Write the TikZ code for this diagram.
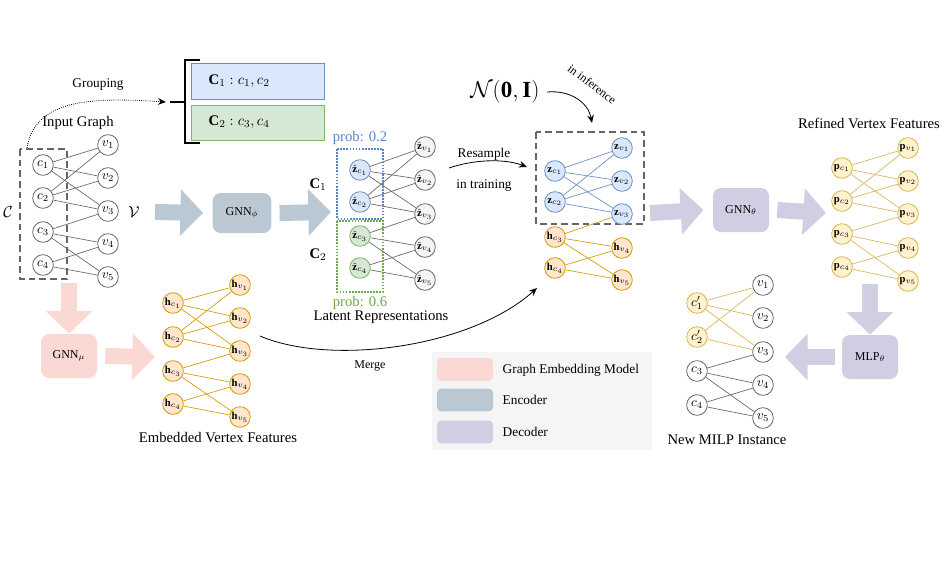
\documentclass[tikz,border=0pt]{standalone}
\usepackage{amsmath,amssymb}
\usepackage{fontspec}
\setmainfont{Liberation Serif}
\usepackage{xcolor}
\usetikzlibrary{
  arrows.meta,
  calc,
  positioning
}
\definecolor{gembed}{HTML}{FAD9D5}
\definecolor{encoder}{HTML}{BAC8D3}
\definecolor{decoder}{HTML}{D0CEE2}
\definecolor{bluefill}{HTML}{DAE8FC}
\definecolor{blueline}{HTML}{6C8EBF}
\definecolor{bluetext}{HTML}{5B84C4}
\definecolor{greenfill}{HTML}{D5E8D4}
\definecolor{greenline}{HTML}{82B366}
\definecolor{greentext}{HTML}{6FA84A}
\definecolor{orangefill}{HTML}{FFE6CC}
\definecolor{orangeline}{HTML}{D79B00}
\definecolor{yellowfill}{HTML}{FFF2CC}
\definecolor{yellowline}{HTML}{D6B656}
\definecolor{grayfill}{HTML}{F5F5F5}
\definecolor{grayline}{HTML}{666666}
\tikzset{
  >=Stealth,
  line cap=round,
  vertex/.style={circle, draw=grayline, fill=white, line width=0.6pt, minimum size=15.5pt, inner sep=0pt, font=\normalsize},
  bluev/.style={vertex, draw=blueline, fill=bluefill, font=\footnotesize},
  greenv/.style={vertex, draw=greenline, fill=greenfill, font=\footnotesize},
  orangev/.style={vertex, draw=orangeline, fill=orangefill, font=\footnotesize},
  yellowv/.style={vertex, draw=yellowline, fill=yellowfill, font=\footnotesize},
  latentv/.style={vertex, fill=grayfill, font=\footnotesize},
  link/.style={draw=grayline, line width=0.5pt},
  block/.style={rounded corners=6pt, minimum width=42pt, minimum height=33pt, font=\small},
  fatarrow/.style={line width=12pt, line cap=butt, -{Triangle[length=17pt,width=34pt]}},
  dashbox/.style={draw=grayline, line width=1.4pt, line cap=butt, dash pattern=on 5pt off 3pt},
  heading/.style={font=\fontsize{11}{13}\selectfont},
  legendkey/.style={rounded corners=3pt, minimum width=42pt, minimum height=17pt},
  thinarrow/.style={-{Stealth[length=6pt,width=5pt]}, line width=0.6pt}
}
\def\edgelist{1/1,1/2,1/3,2/1,2/2,2/3,3/3,3/4,3/5,4/4,4/5}

\begin{document}
\begin{tikzpicture}[x=0.75pt,y=-0.75pt]
  \useasboundingbox (0,0) rectangle (946,568);

  % input graph
  \node[heading] (ingraph) at (78,123) {Input Graph};
  \foreach \i/\y in {1/165,2/198,3/232,4/265}
    \node[vertex] (c\i) at (43,\y) {$c_{\i}$};
  \foreach \j/\y in {1/145,2/178,3/211,4/244,5/277}
    \node[vertex] (v\j) at (108,\y) {$v_{\j}$};
  \foreach \a/\b in \edgelist
    \draw[link] (c\a) -- (v\b);
  \draw[dashbox] (20,149) rectangle (67,279);
  \node[font=\large] (Cset) at (8,212) {$\mathcal{C}$};
  \node[font=\large] (Vset) at (134,212) {$\mathcal{V}$};

  % grouping
  \coordinate (grpfrom) at (27,148);
  \coordinate (grpto) at (166,102);
  \draw[densely dotted, thinarrow] (grpfrom) .. controls (35,96) and (100,98) .. (grpto);
  \node (grplabel) at (98,85) {Grouping};
  \draw[line width=1.3pt] (170,102) -- (185,102) (200,60) -- (185,60) -- (185,143) -- (200,143);
  \draw[fill=bluefill, draw=blueline, line width=0.6pt] (191,63) rectangle (324,99);
  \draw[fill=greenfill, draw=greenline, line width=0.6pt] (191,105) rectangle (324,140);
  \node[anchor=west, heading] (grp1) at (204,81) {$\mathbf{C}_1 : c_1, c_2$};
  \node[anchor=west, heading] (grp2) at (204,122) {$\mathbf{C}_2 : c_3, c_4$};

  % encoder
  \node[block, fill=encoder, minimum width=44pt, minimum height=30pt] (gnnphi) at (242,213) {GNN$_\phi$};
  \coordinate (encin) at (155,212);
  \coordinate (encout) at (331,212);
  \draw[fatarrow, encoder] (encin) -- ([xshift=-7]gnnphi.west);
  \draw[fatarrow, encoder] ([xshift=6]gnnphi.east) -- (encout);

  % latent representations
  \node[bluev] (zc1) at (360,170) {$\hat{\mathbf{z}}_{c_1}$};
  \node[bluev] (zc2) at (360,202) {$\hat{\mathbf{z}}_{c_2}$};
  \node[greenv] (zc3) at (360,236) {$\hat{\mathbf{z}}_{c_3}$};
  \node[greenv] (zc4) at (360,268) {$\hat{\mathbf{z}}_{c_4}$};
  \foreach \j/\y in {1/147,2/180,3/214,4/247,5/280}
    \node[latentv] (zv\j) at (425,\y) {$\hat{\mathbf{z}}_{v_{\j}}$};
  \foreach \a/\b in \edgelist
    \draw[link] (zc\a) -- (zv\b);
  \draw[bluetext, densely dotted, line width=1.3pt] (337,149) rectangle (383,219);
  \draw[greentext, densely dotted, line width=1.3pt] (337,221) rectangle (383,292);
  \node[heading, text=bluetext] (prob1) at (360,138) {prob: 0.2};
  \node[heading, text=greentext] (prob2) at (360,303) {prob: 0.6};
  \node[heading] (clu1) at (318,185) {$\mathbf{C}_1$};
  \node[heading] (clu2) at (318,255) {$\mathbf{C}_2$};
  \node[heading] (latent) at (381,317) {Latent Representations};

  % resample / noise
  \coordinate (resfrom) at (449,168);
  \coordinate (resto) at (527,167);
  \draw[thinarrow] (resfrom) .. controls (472,160) and (503,158) .. (resto);
  \node (resample) at (484,154) {Resample};
  \node (training) at (484,186) {in training};
  \node[font=\LARGE] (noise) at (505,92) {$\mathcal{N}(\mathbf{0},\mathbf{I})$};
  \coordinate (noiseto) at (592,123);
  \draw[thinarrow] ([xshift=2]noise.east) .. controls (570,90) and (588,102) .. (noiseto);
  \node[font=\small, rotate=-37] (inference) at (592,84) {in inference};

  % decoder input
  \draw[dashbox] (536,132) rectangle (644,224);
  \node[bluev] (dc1) at (555,171) {$\mathbf{z}_{c_1}$};
  \node[bluev] (dc2) at (555,202) {$\mathbf{z}_{c_2}$};
  \node[orangev] (dc3) at (555,237) {$\mathbf{h}_{c_3}$};
  \node[orangev] (dc4) at (555,268) {$\mathbf{h}_{c_4}$};
  \node[bluev] (dv1) at (622,148) {$\mathbf{z}_{v_1}$};
  \node[bluev] (dv2) at (622,181) {$\mathbf{z}_{v_2}$};
  \node[bluev] (dv3) at (622,214) {$\mathbf{z}_{v_3}$};
  \node[orangev] (dv4) at (622,248) {$\mathbf{h}_{v_4}$};
  \node[orangev] (dv5) at (622,280) {$\mathbf{h}_{v_5}$};
  \foreach \a/\b in {1/1,1/2,1/3,2/1,2/2,2/3}
    \draw[link, draw=blueline] (dc\a) -- (dv\b);
  \foreach \a/\b in {3/3,3/4,3/5,4/4,4/5}
    \draw[link, draw=orangeline] (dc\a) -- (dv\b);

  % decoder
  \node[block, fill=decoder] (gnntheta) at (741,210) {GNN$_\theta$};
  \coordinate (decin) at (650,213);
  \coordinate (decout) at (826,213);
  \draw[fatarrow, decoder] (decin) -- ([xshift=-7]gnntheta.west);
  \draw[fatarrow, decoder] ([xshift=6]gnntheta.east) -- (decout);

  % refined vertex features
  \node[heading] (refined) at (869,123) {Refined Vertex Features};
  \foreach \i/\y in {1/168,2/201,3/234,4/267}
    \node[yellowv] (pc\i) at (842,\y) {$\mathbf{p}_{c_{\i}}$};
  \foreach \j/\y in {1/148,2/181,3/214,4/248,5/281}
    \node[yellowv] (pv\j) at (908,\y) {$\mathbf{p}_{v_{\j}}$};
  \foreach \a/\b in \edgelist
    \draw[link, draw=yellowline] (pc\a) -- (pv\b);

  % mlp
  \node[block, fill=decoder] (mlp) at (870,357) {MLP$_\theta$};
  \coordinate (mlpin) at (870,284);
  \coordinate (mlpout) at (785,357);
  \draw[fatarrow, decoder] (mlpin) -- (mlp.north);
  \draw[fatarrow, decoder] ([xshift=-5]mlp.west) -- (mlpout);

  % new milp instance
  \node[yellowv, font=\normalsize] (nc1) at (697,303) {$c'_1$};
  \node[yellowv, font=\normalsize] (nc2) at (697,337) {$c'_2$};
  \node[vertex] (nc3) at (697,371) {$c_3$};
  \node[vertex] (nc4) at (697,405) {$c_4$};
  \foreach \j/\y in {1/285,2/318,3/352,4/385,5/418}
    \node[vertex] (nv\j) at (763,\y) {$v_{\j}$};
  \foreach \a/\b in {1/1,1/2,1/3,2/1,2/3}
    \draw[link, draw=yellowline] (nc\a) -- (nv\b);
  \foreach \a/\b in {3/3,3/4,3/5,4/4,4/5}
    \draw[link] (nc\a) -- (nv\b);
  \node[heading] (newmilp) at (727,440) {New MILP Instance};

  % graph embedding
  \node[block, fill=gembed] (gnnmu) at (69,356) {GNN$_\mu$};
  \coordinate (embin) at (69,283);
  \coordinate (embout) at (155,357);
  \draw[fatarrow, gembed] (embin) -- (gnnmu.north);
  \draw[fatarrow, gembed] ([xshift=6]gnnmu.east) -- (embout);
  \foreach \i/\y in {1/303,2/337,3/371,4/404}
    \node[orangev] (hc\i) at (173,\y) {$\mathbf{h}_{c_{\i}}$};
  \foreach \j/\y in {1/285,2/318,3/351,4/384,5/417}
    \node[orangev] (hv\j) at (240,\y) {$\mathbf{h}_{v_{\j}}$};
  \foreach \a/\b in \edgelist
    \draw[link, draw=orangeline] (hc\a) -- (hv\b);
  \node[heading] (embedded) at (218,438) {Embedded Vertex Features};

  % merge
  \coordinate (mergefrom) at (260,336);
  \coordinate (mergeto) at (537,288);
  \draw[thinarrow] (mergefrom) .. controls (330,366) and (470,348) .. (mergeto);
  \node[font=\small] (merge) at (370,366) {Merge};

  % legend
  \fill[grayfill] (432,352) rectangle (652,450);
  \node[legendkey, fill=gembed] (key1) at (465,369.5) {};
  \node[legendkey, fill=encoder] (key2) at (465,400) {};
  \node[legendkey, fill=decoder] (key3) at (465,432) {};
  \node[anchor=west] (lab1) at (498,370) {Graph Embedding Model};
  \node[anchor=west] (lab2) at (498,400) {Encoder};
  \node[anchor=west] (lab3) at (498,432) {Decoder};
\end{tikzpicture}
\end{document}
